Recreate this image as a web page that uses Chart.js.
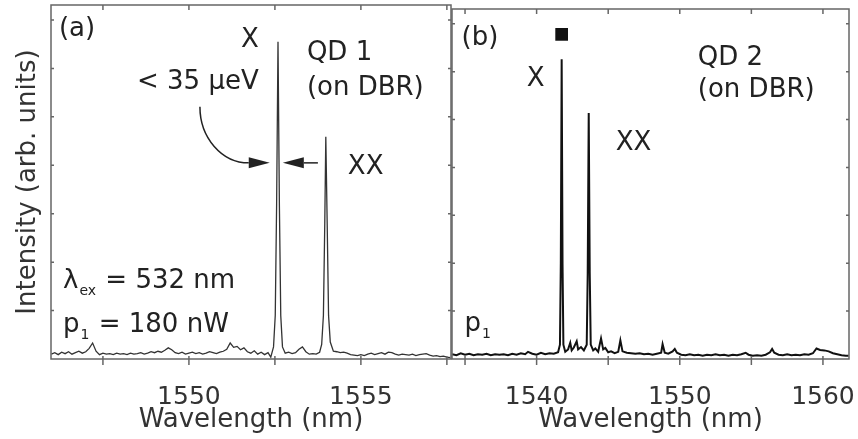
<!DOCTYPE html>
<html>
<head>
<meta charset="utf-8">
<script src="https://cdn.jsdelivr.net/npm/chart.js@4"></script>
<style>
  html, body { margin: 0; padding: 0; background: #fff; }
  #wrap { position: relative; width: 858px; height: 439px; }
  .panel { position: absolute; left: 0; top: 0; width: 858px; height: 439px; }
</style>
</head>
<body>
<div id="wrap">
  <div class="panel"><canvas id="specA"></canvas></div>
  <div class="panel"><canvas id="specB"></canvas></div>
</div>
<script>
// QD 1 spectrum (panel a), wavelength in nm, intensity in arb. units
const waveA = [
  1546.0, 1546.1, 1546.2, 1546.3, 1546.4, 1546.5, 1546.6, 1546.7, 1546.8, 1546.9,
  1547.0, 1547.1, 1547.2, 1547.3, 1547.4, 1547.5, 1547.6, 1547.7, 1547.8, 1547.9,
  1548.0, 1548.1, 1548.2, 1548.3, 1548.4, 1548.5, 1548.6, 1548.7, 1548.8, 1548.9,
  1549.0, 1549.1, 1549.2, 1549.3, 1549.4, 1549.5, 1549.6, 1549.7, 1549.8, 1549.9,
  1550.0, 1550.1, 1550.2, 1550.3, 1550.4, 1550.5, 1550.6, 1550.7, 1550.8, 1550.9,
  1551.0, 1551.1, 1551.2, 1551.3, 1551.4, 1551.5, 1551.6, 1551.7, 1551.8, 1551.9,
  1552.0, 1552.1, 1552.2, 1552.3, 1552.38,
  1552.46, 1552.51, 1552.55, 1552.59, 1552.63, 1552.67, 1552.72,
  1552.8, 1552.9, 1553.0, 1553.1, 1553.2, 1553.3, 1553.4, 1553.5, 1553.6, 1553.7, 1553.8,
  1553.86, 1553.91, 1553.95, 1553.98, 1554.02, 1554.06, 1554.11,
  1554.2, 1554.3, 1554.4, 1554.5, 1554.6, 1554.7, 1554.8, 1554.9,
  1555.0, 1555.1, 1555.2, 1555.3, 1555.4, 1555.5, 1555.6, 1555.7, 1555.8, 1555.9,
  1556.0, 1556.1, 1556.2, 1556.3, 1556.4, 1556.5, 1556.6, 1556.7, 1556.8, 1556.9,
  1557.0, 1557.1, 1557.2, 1557.3, 1557.4, 1557.5, 1557.6
];
const intensA = [
  1.0, 1.3, 0.9, 1.4, 1.1, 1.5, 1.0, 1.3, 1.6, 1.2,
  1.5, 2.2, 3.3, 1.6, 0.9, 1.2, 1.0, 1.1, 0.9, 1.2,
  1.0, 1.1, 0.9, 1.2, 1.0, 1.1, 1.3, 1.0, 1.2, 1.5,
  1.3, 1.6, 1.4, 1.8, 2.3, 1.9, 1.3, 1.1, 1.4, 1.0,
  1.2, 1.4, 1.1, 1.3, 1.0, 1.2, 1.5, 1.3, 1.1, 1.4,
  1.6, 2.0, 3.3, 2.4, 2.6, 1.9, 2.3, 1.5, 1.2, 1.7,
  1.0, 1.4, 0.9, 1.3, 0.4,
  2.5, 9, 32, 65.5, 32, 9, 2.5,
  1.2, 1.4, 1.1, 1.3, 2.0, 2.5, 1.5, 1.0, 1.1, 1.0, 1.4,
  3, 9, 28, 45.9, 28, 9, 3.5,
  1.6, 1.5, 1.3, 1.4, 1.2, 0.9, 0.8, 0.7,
  0.9, 0.7, 1.0, 1.2, 0.9, 1.1, 1.3, 1.0, 1.4, 1.3,
  1.0, 0.8, 1.0, 0.9, 0.8, 1.0, 0.7, 0.9, 1.0, 1.1,
  0.8, 0.6, 0.7, 0.5, 0.6, 0.4, 0.3
];

// QD 2 spectrum (panel b)
const waveB = [
  1534.1, 1534.4, 1534.7, 1535.0, 1535.3, 1535.6, 1535.9, 1536.2, 1536.5, 1536.8,
  1537.1, 1537.4, 1537.7, 1538.0, 1538.3, 1538.6, 1538.9, 1539.2, 1539.4, 1539.7,
  1540.0, 1540.3, 1540.6, 1540.9, 1541.2, 1541.5,
  1541.63, 1541.69, 1541.75, 1541.81, 1541.87,
  1542.0, 1542.2, 1542.35, 1542.45, 1542.6, 1542.8, 1542.9, 1543.1, 1543.3,
  1543.5, 1543.57, 1543.64, 1543.71, 1543.78,
  1543.95, 1544.1, 1544.3, 1544.5, 1544.65, 1544.8, 1545.0, 1545.2, 1545.45, 1545.7,
  1545.85, 1546.0, 1546.3, 1546.6, 1546.9, 1547.2, 1547.5, 1547.8, 1548.1, 1548.4,
  1548.7, 1548.8, 1548.95, 1549.2, 1549.5, 1549.65, 1549.8, 1550.1, 1550.4, 1550.7,
  1551.0, 1551.3, 1551.6, 1551.9, 1552.2, 1552.5, 1552.8, 1553.1, 1553.4, 1553.7,
  1554.0, 1554.3, 1554.6, 1554.8, 1555.1, 1555.4, 1555.7, 1556.0, 1556.3, 1556.45,
  1556.6, 1556.9, 1557.2, 1557.5, 1557.8, 1558.1, 1558.4, 1558.7, 1559.0, 1559.3,
  1559.55, 1559.8, 1560.1, 1560.4, 1560.7, 1561.0, 1561.3, 1561.6, 1561.8
];
const intensB = [
  1.0, 0.8, 1.2, 0.9, 1.1, 0.8, 1.0, 0.9, 1.1, 0.8,
  1.0, 0.9, 1.0, 0.8, 1.1, 0.9, 1.2, 1.0, 1.5, 1.1,
  0.9, 1.3, 1.0, 1.2, 1.1, 1.4,
  3, 20, 62.6, 20, 3,
  1.5, 2.0, 3.4, 1.8, 2.4, 3.7, 2.0, 2.5, 1.8,
  3, 18, 51.4, 18, 3,
  1.8, 2.2, 1.5, 4.3, 2.0, 2.3, 1.4, 1.6, 1.2, 1.5,
  3.9, 1.6, 1.3, 1.2, 1.1, 1.2, 1.0, 1.1, 0.9, 1.1,
  1.3, 3.1, 1.3, 1.1, 1.6, 2.1, 1.3, 0.9, 0.8, 1.0,
  0.8, 0.9, 0.7, 0.9, 0.8, 1.0, 0.8, 0.9, 0.7, 0.9,
  0.8, 1.0, 1.3, 0.9, 0.7, 0.8, 0.7, 0.9, 1.4, 2.1,
  1.3, 0.9, 0.8, 1.0, 0.8, 0.9, 0.8, 1.0, 0.9, 1.2,
  2.2, 1.9, 1.8, 1.6, 1.2, 1.0, 0.8, 0.7, 0.7
];
// filled square above the X line of QD 2
const markerB = [{ x: 1541.75, y: 67.8 }];

const ticksA = [1547.5, 1550, 1552.5, 1555, 1557.5];
const labeledA = [1550, 1555];
const ticksB = [1535, 1540, 1545, 1550, 1555, 1560];
const labeledB = [1540, 1550, 1560];
const ticksY = [10, 20, 30, 40, 50, 60, 70];

const FAMILY = '"DejaVu Sans", sans-serif';
Chart.defaults.font.family = FAMILY;
Chart.defaults.color = '#333';

function toPoints(xs, ys) {
  return xs.map((w, i) => ({ x: w, y: ys[i] }));
}

// box around the plot with small ticks on every side
const framePlugin = {
  id: 'frame',
  afterDatasetsDraw(chart) {
    const { ctx, chartArea: a, scales: { x, y } } = chart;
    ctx.save();
    ctx.strokeStyle = '#666';
    ctx.lineWidth = 1.5;
    ctx.strokeRect(a.left, a.top, a.right - a.left, a.bottom - a.top);
    ctx.beginPath();
    x.ticks.forEach(t => {
      const px = x.getPixelForValue(t.value);
      ctx.moveTo(px, a.top); ctx.lineTo(px, a.top + 5);
      ctx.moveTo(px, a.bottom - 3); ctx.lineTo(px, a.bottom + 6);
    });
    y.ticks.forEach(t => {
      const py = y.getPixelForValue(t.value);
      ctx.moveTo(a.left, py); ctx.lineTo(a.left + 3, py);
      ctx.moveTo(a.right, py); ctx.lineTo(a.right - 3, py);
    });
    ctx.stroke();
    ctx.restore();
  }
};

// labels and arrows placed in data coordinates
const HEAD = 21;
const notesPlugin = {
  id: 'notes',
  afterDraw(chart, args, opts) {
    const { ctx, scales: { x, y } } = chart;
    ctx.save();
    ctx.fillStyle = '#222';
    ctx.textBaseline = 'alphabetic';
    (opts.texts || []).forEach(n => {
      let px = x.getPixelForValue(n.at[0]);
      const py = y.getPixelForValue(n.at[1]);
      const parts = Array.isArray(n.text) ? n.text : [n.text];
      ctx.textAlign = n.align || 'left';
      parts.forEach(p => {
        const sub = typeof p === 'object';
        const s = sub ? p.sub : p;
        ctx.font = (sub ? '14px ' : '26px ') + FAMILY;
        ctx.fillText(s, px, py + (sub ? 7 : 0));
        px += ctx.measureText(s).width + 1;
      });
    });

    ctx.strokeStyle = '#222';
    ctx.lineWidth = 1.5;
    (opts.arrows || []).forEach(ar => {
      const tx = x.getPixelForValue(ar.tip[0]);
      const ty = y.getPixelForValue(ar.tip[1]);
      const baseX = tx - ar.dir * HEAD;
      ctx.beginPath();
      if (ar.start) {
        // quarter ellipse from the label down to the arrow head
        const sx = x.getPixelForValue(ar.start[0]);
        const sy = y.getPixelForValue(ar.start[1]);
        ctx.ellipse(baseX, sy, baseX - sx, ty - sy, 0, Math.PI, Math.PI / 2, true);
      } else {
        ctx.moveTo(x.getPixelForValue(ar.tail[0]), ty);
        ctx.lineTo(baseX, ty);
      }
      ctx.stroke();
      ctx.beginPath();
      ctx.moveTo(tx, ty);
      ctx.lineTo(baseX, ty - 5.5);
      ctx.lineTo(baseX, ty + 5.5);
      ctx.closePath();
      ctx.fill();
    });
    ctx.restore();
  }
};

function xAxis(min, max, tickVals, labeled) {
  return {
    type: 'linear',
    min: min,
    max: max,
    afterBuildTicks: s => { s.ticks = tickVals.map(v => ({ value: v })); },
    afterFit: s => {
      s.height = 80;
      // labels near the edges may overhang; keep the plot box fixed
      s.paddingLeft = 0;
      s.paddingRight = 0;
    },
    grid: { display: false },
    border: { display: false },
    ticks: {
      autoSkip: false,
      maxRotation: 0,
      padding: 15,
      color: '#333',
      font: { size: 25 },
      callback: v => labeled.includes(v) ? String(v) : ''
    },
    title: {
      display: true,
      text: 'Wavelength (nm)',
      color: '#333',
      font: { size: 26 },
      padding: { top: 0, bottom: 3 }
    }
  };
}

new Chart(document.getElementById('specA'), {
  type: 'line',
  data: {
    datasets: [{
      data: toPoints(waveA, intensA),
      borderColor: '#333',
      borderWidth: 1.3,
      pointRadius: 0,
      tension: 0
    }]
  },
  options: {
    responsive: true,
    maintainAspectRatio: false,
    animation: false,
    events: [],
    layout: { padding: { left: 0, right: 407, top: 5, bottom: 0 } },
    plugins: {
      legend: { display: false },
      tooltip: { enabled: false },
      notes: {
        texts: [
          { text: '(a)', at: [1546.22, 66.7] },
          { text: 'X', at: [1551.77, 64.5], align: 'center' },
          { text: 'QD 1', at: [1553.43, 61.8] },
          { text: '(on DBR)', at: [1553.43, 54.5] },
          { text: '< 35 \u03bceV', at: [1548.49, 55.8] },
          { text: 'XX', at: [1554.62, 38.2] },
          { text: ['\u03bb', { sub: 'ex' }, ' = 532 nm'], at: [1546.34, 14.7] },
          { text: ['p', { sub: '1' }, ' = 180 nW'], at: [1546.34, 5.6] }
        ],
        arrows: [
          { start: [1550.32, 52.1], tip: [1552.35, 40.5], dir: 1 },
          { tail: [1553.75, 40.5], tip: [1552.73, 40.5], dir: -1 }
        ]
      }
    },
    scales: {
      x: xAxis(1545.99, 1557.62, ticksA, labeledA),
      y: {
        min: 0,
        max: 73.1,
        afterBuildTicks: s => { s.ticks = ticksY.map(v => ({ value: v })); },
        afterFit: s => { s.width = 51; },
        grid: { display: false },
        border: { display: false },
        ticks: { display: false },
        title: {
          display: true,
          text: 'Intensity (arb. units)',
          color: '#333',
          font: { size: 26 },
          padding: { top: 13, bottom: 0 }
        }
      }
    }
  },
  plugins: [framePlugin, notesPlugin]
});

new Chart(document.getElementById('specB'), {
  type: 'line',
  data: {
    datasets: [{
      data: toPoints(waveB, intensB),
      borderColor: '#111',
      borderWidth: 2,
      pointRadius: 0,
      tension: 0
    }, {
      data: markerB,
      showLine: false,
      pointStyle: 'rect',
      pointRadius: 9,
      pointBorderWidth: 0,
      pointBackgroundColor: '#111'
    }]
  },
  options: {
    responsive: true,
    maintainAspectRatio: false,
    animation: false,
    events: [],
    layout: { padding: { left: 452, right: 9, top: 5, bottom: 0 } },
    plugins: {
      legend: { display: false },
      tooltip: { enabled: false },
      notes: {
        texts: [
          { text: '(b)', at: [1534.76, 65.5] },
          { text: 'X', at: [1539.93, 57.0], align: 'center' },
          { text: 'QD 2', at: [1551.26, 61.4] },
          { text: '(on DBR)', at: [1551.26, 54.8] },
          { text: 'XX', at: [1545.52, 43.6] },
          { text: ['p', { sub: '1' }], at: [1534.97, 5.8] }
        ]
      }
    },
    scales: {
      x: xAxis(1534.09, 1561.82, ticksB, labeledB),
      y: {
        min: 0,
        max: 73.1,
        afterBuildTicks: s => { s.ticks = ticksY.map(v => ({ value: v })); },
        afterFit: s => { s.width = 0; },
        grid: { display: false },
        border: { display: false },
        ticks: { display: false }
      }
    }
  },
  plugins: [framePlugin, notesPlugin]
});
</script>
</body>
</html>
